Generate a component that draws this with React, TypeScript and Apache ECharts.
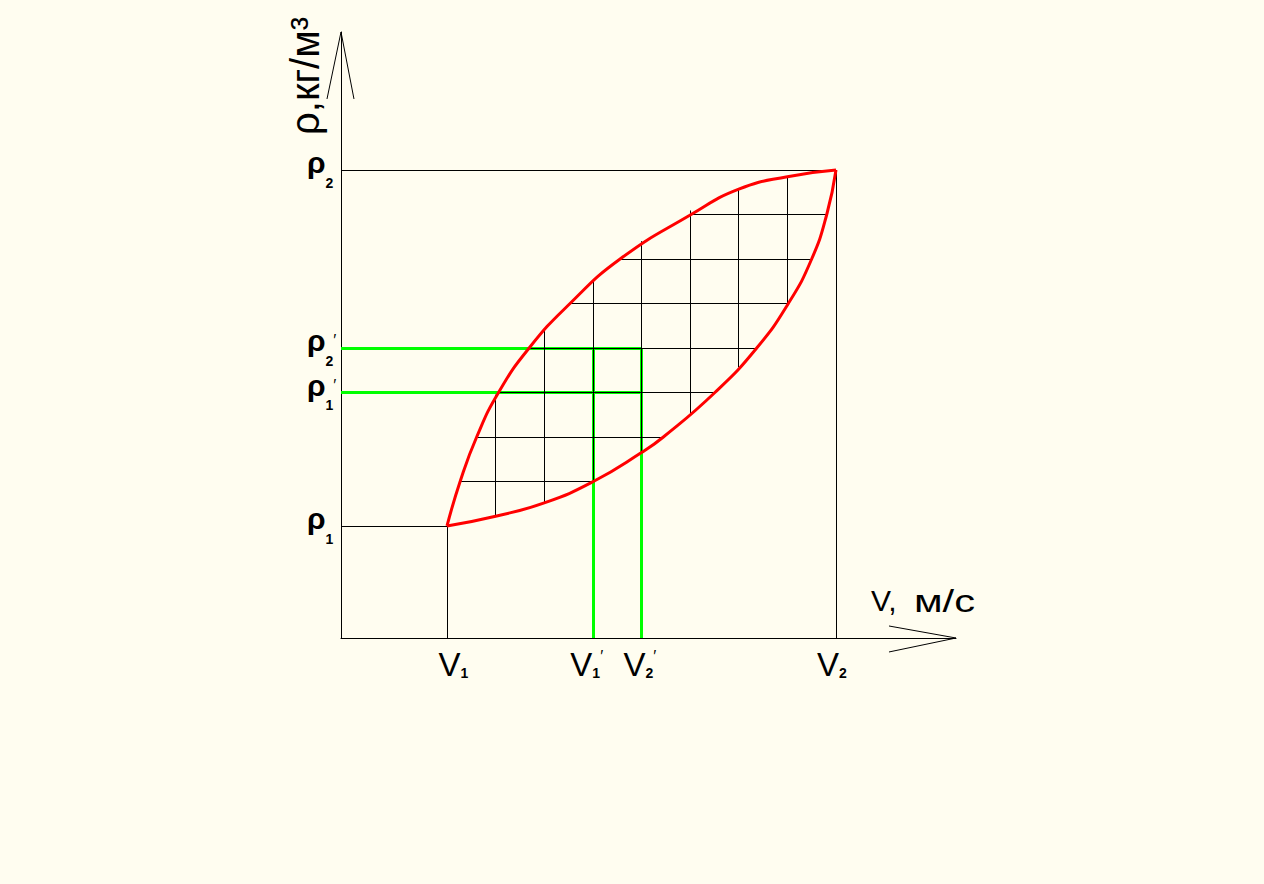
import React, { useEffect, useRef } from "react";
import * as echarts from "echarts";

// Diagram units: one unit = one hatch cell. V1 = 0, V2 = 8 ; ρ1 = 0, ρ2 = 8
const vAxisRange = [-2.18, 10.468];
const rhoAxisRange = [-2.517, 11.101];

// key values
const V1 = 0, V1p = 3, V2p = 4, V2 = 8;
const R1 = 0, R1p = 3, R2p = 4, R2 = 8;

// Upper (concave) red boundary
const upperV = [0, 0.27, 0.61, 1.06, 1.69, 2.53, 3.56, 5.02, 6, 7, 8];
const upperR = [0, 1, 2, 3, 4, 5, 6, 7, 7.57, 7.85, 8];
// Lower (convex) red boundary
const lowerV = [0, 1, 2, 3.01, 4, 4.45, 5.51, 6.37, 7.02, 7.5, 7.81, 8];
const lowerR = [0, 0.22, 0.52, 1, 1.65, 2, 3, 4, 5, 6, 7, 8];

// Hatch: vertical segments
const hatchV = [1, 2, 3, 4, 5, 6, 7];
const hatchVBottom = [0.22, 0.52, 1.0, 1.65, 2.54, 3.57, 4.99];
const hatchVTop = [2.95, 4.4, 5.51, 6.4, 7.09, 7.57, 7.85];
// Hatch: horizontal segments
const hatchR = [1, 2, 3, 4, 5, 6, 7];
const hatchRLeft = [0.27, 0.61, 1.06, 1.69, 2.53, 3.56, 5.02];
const hatchRRight = [3.01, 4.45, 5.51, 6.37, 7.02, 7.5, 7.81];

// Arrow heads: tip and two wing ends
const yArrowTip = [-2.18, 11.101];
const yArrowWings = [[-2.468, 9.596], [-1.913, 9.596]];
const xArrowTip = [10.468, -2.517];
const xArrowWings = [[9.09, -2.247], [9.09, -2.831]];

// Tick labels
const xTickValues = [V1, V1p, V2p, V2];
const xTickSubs = ["1", "1", "2", "2"];
const xTickPrime = [false, true, true, false];
const yTickValues = [R2, R2p, R1p, R1];
const yTickSubs = ["2", "2", "1", "1"];
const yTickPrime = [false, true, true, false];

const xTitleMain = "V,";
const xTitleUnit = "м/с";
const yTitle = "ρ,кг/м³";

// style nudges (pixels)
const xLabelNudge = [2.5, -11.5, -7, -8];

const BG = "#fffdf0";
const FONT = '"Liberation Sans", Arial, sans-serif';

function seg(a: number[], b: number[]) {
  return { coords: [a, b] };
}

export default function App() {
  const ref = useRef<HTMLDivElement>(null);
  useEffect(() => {
    if (!ref.current) return;
    const chart = echarts.init(ref.current, undefined, { renderer: "svg" });
    const vMin = vAxisRange[0];
    const rMin = rhoAxisRange[0];

    const greenSegs = [
      seg([vMin, R2p], [V2p, R2p]),
      seg([vMin, R1p], [V2p, R1p]),
      seg([V1p, rMin], [V1p, R2p]),
      seg([V2p, rMin], [V2p, R2p]),
    ];
    const refSegs = [
      seg([vMin, R2], [V2, R2]),
      seg([vMin, R1], [V1, R1]),
      seg([V1, rMin], [V1, R1]),
      seg([V2, rMin], [V2, R2]),
    ];
    const hatchSegs = [
      ...hatchV.map((v, i) => seg([v, hatchVBottom[i]], [v, hatchVTop[i]])),
      ...hatchR.map((r, i) => seg([hatchRLeft[i], r], [hatchRRight[i], r])),
    ];
    const arrowSegs = [
      ...yArrowWings.map((w) => seg(w, yArrowTip)),
      ...xArrowWings.map((w) => seg(w, xArrowTip)),
    ];

    const curve = (vs: number[], rs: number[]) => ({
      type: "line",
      data: vs.map((v, i) => [v, rs[i]]),
      smooth: 0.5,
      symbol: "none",
      lineStyle: { color: "#ff0000", width: 3 },
      silent: true,
      clip: false,
      z: 5,
    });

    const segSeries = (data: any[], color: string, width: number, z: number) => ({
      type: "lines",
      coordinateSystem: "cartesian2d",
      data,
      lineStyle: { color, width, opacity: 1, curveness: 0 },
      silent: true,
      clip: false,
      z,
    });

    const option: any = {
      animation: false,
      backgroundColor: BG,
      grid: { left: 341, top: 32, width: 615, height: 606, show: false },
      xAxis: {
        type: "value",
        min: vAxisRange[0],
        max: vAxisRange[1],
        axisLine: { show: true, onZero: false, lineStyle: { color: "#000", width: 1 } },
        axisTick: { show: false },
        axisLabel: { show: false },
        splitLine: { show: false },
      },
      yAxis: {
        type: "value",
        min: rhoAxisRange[0],
        max: rhoAxisRange[1],
        axisLine: { show: true, onZero: false, lineStyle: { color: "#000", width: 1 } },
        axisTick: { show: false },
        axisLabel: { show: false },
        splitLine: { show: false },
      },
      series: [
        segSeries(greenSegs, "#00ff00", 3, 1),
        segSeries(refSegs, "#000000", 1, 2),
        segSeries(hatchSegs, "#000000", 1, 3),
        segSeries(arrowSegs, "#000000", 1, 4),
        curve(upperV, upperR),
        curve(lowerV, lowerR),
      ],
    };
    chart.setOption(option);

    const toPx = (v: number, r: number) =>
      chart.convertToPixel({ gridIndex: 0 }, [v, r]) as number[];

    const graphics: any[] = [];
    // x tick labels: V with subscript and optional prime as one rich text
    xTickValues.forEach((v, i) => {
      const [px] = toPx(v, 0);
      const cx = px + xLabelNudge[i];
      const text = `{m|V}{s|${xTickSubs[i]}}` + (xTickPrime[i] ? "{p|′}" : "");
      graphics.push({
        type: "text",
        x: cx - 11,
        y: 664,
        silent: true,
        z: 10,
        style: {
          text,
          align: "left",
          verticalAlign: "middle",
          textAlign: "left",
          textVerticalAlign: "middle",
          rich: {
            m: { font: `normal 33px ${FONT}`, fill: "#000", lineHeight: 32, verticalAlign: "middle" },
            s: { font: `bold 14px ${FONT}`, fill: "#000", lineHeight: 12, verticalAlign: "bottom" },
            p: { font: `normal 16px ${FONT}`, fill: "#000", lineHeight: 14, verticalAlign: "top" },
          },
        },
      });
    });
    // y tick labels: ρ with subscript and optional prime
    yTickValues.forEach((r, i) => {
      const [, py] = toPx(0, r);
      const text = `{m|ρ}{s|${yTickSubs[i]}}` + (yTickPrime[i] ? "{p|′}" : "");
      graphics.push({
        type: "text",
        x: 307,
        y: py - 7,
        silent: true,
        z: 10,
        style: {
          text,
          align: "left",
          verticalAlign: "middle",
          textAlign: "left",
          textVerticalAlign: "middle",
          rich: {
            m: { font: `bold 30px ${FONT}`, fill: "#000", lineHeight: 54, verticalAlign: "middle" },
            s: { font: `bold 14px ${FONT}`, fill: "#000", lineHeight: 12, verticalAlign: "bottom" },
            p: { font: `normal 16px ${FONT}`, fill: "#000", lineHeight: 16, verticalAlign: "middle" },
          },
        },
      });
    });
    // axis titles
    graphics.push({
      type: "text",
      x: 871,
      y: 600,
      silent: true,
      z: 10,
      style: { text: xTitleMain, fill: "#000", font: `normal 30px ${FONT}`, align: "left", verticalAlign: "middle", textAlign: "left", textVerticalAlign: "middle" },
    });
    graphics.push({
      type: "text",
      x: 914,
      y: 601,
      scaleX: 1.3,
      silent: true,
      z: 10,
      style: { text: xTitleUnit, fill: "#000", font: `normal 32px ${FONT}`, align: "left", verticalAlign: "middle", textAlign: "left", textVerticalAlign: "middle" },
    });
    graphics.push({
      type: "text",
      x: 305,
      y: 76,
      rotation: Math.PI / 2,
      silent: true,
      z: 10,
      style: { text: yTitle, fill: "#000", font: `normal 40px ${FONT}`, align: "center", verticalAlign: "middle", textAlign: "center", textVerticalAlign: "middle" },
    });

    chart.setOption({ graphic: graphics });

    return () => chart.dispose();
  }, []);

  return (
    <div
      ref={ref}
      style={{ position: "fixed", left: 0, top: 0, width: 1264, height: 884 }}
    />
  );
}
